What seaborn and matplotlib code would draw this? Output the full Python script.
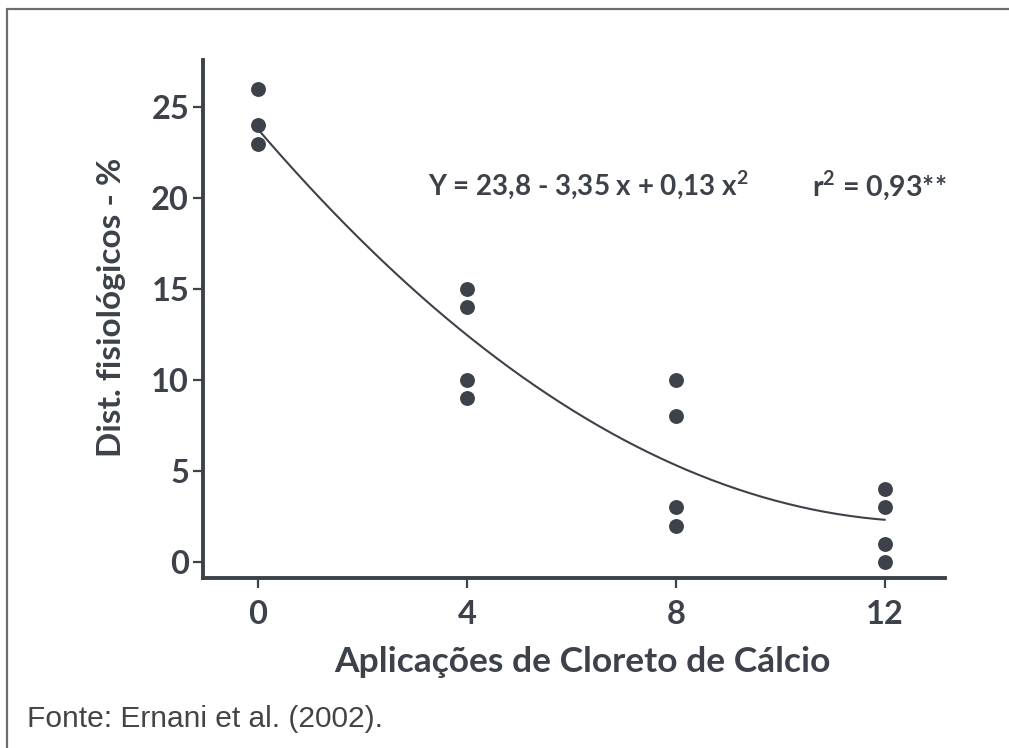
import matplotlib
matplotlib.use("Agg")
import matplotlib.pyplot as plt
from matplotlib.lines import Line2D
import numpy as np
import pandas as pd
import seaborn as sns

# Data
aplicacoes = [0, 0, 0, 4, 4, 4, 4, 8, 8, 8, 8, 12, 12, 12, 12]
disturbios = [26, 24, 23, 15, 14, 10, 9, 10, 8, 3, 2, 4, 3, 1, 0]
coef = [23.8, -3.35, 0.13]  # Y = b0 + b1 x + b2 x^2
x_ticks = [0, 4, 8, 12]
y_ticks = [0, 5, 10, 15, 20, 25]

sns.set_theme(style="white")
plt.rcParams['font.family'] = ['Lato', 'DejaVu Sans']
plt.rcParams['mathtext.fontset'] = 'custom'
plt.rcParams['mathtext.rm'] = 'Lato:bold'
plt.rcParams['mathtext.bf'] = 'Lato:bold'

ink = "#3d424a"
W = "bold"

df = pd.DataFrame({"x": aplicacoes, "y": disturbios})
xs = np.linspace(0, 12, 200)
fit = pd.DataFrame({"x": xs, "y": coef[0] + coef[1] * xs + coef[2] * xs ** 2})

fig = plt.figure(figsize=(10.09, 7.48), dpi=100)
ax = fig.add_axes([203 / 1009, 1 - 578 / 748, 742 / 1009, 518 / 748])

sns.lineplot(data=fit, x="x", y="y", ax=ax, color=ink, linewidth=1.5)
sns.scatterplot(data=df, x="x", y="y", ax=ax, color=ink, s=115, edgecolor=ink, linewidth=0, zorder=3)

ax.set_xlim(-1.05, 13.15)
ax.set_ylim(-0.88, 27.6)
ax.set_xticks(x_ticks)
ax.set_yticks(y_ticks)
ax.set_xticklabels([str(v) for v in x_ticks])
ax.set_yticklabels([str(v) for v in y_ticks])

for s in ["top", "right"]:
    ax.spines[s].set_visible(False)
for s in ["left", "bottom"]:
    ax.spines[s].set_color(ink)
    ax.spines[s].set_linewidth(2.8)

ax.tick_params(axis="both", direction="out", length=7, width=1.6, color=ink,
               labelsize=23.5, labelcolor=ink, left=True, bottom=True)
ax.tick_params(axis="x", pad=9)
ax.tick_params(axis="y", pad=3)
for lab in ax.get_xticklabels() + ax.get_yticklabels():
    lab.set_fontweight(W)

ax.set_xlabel("Aplicações de Cloreto de Cálcio", fontsize=25.5, fontweight=W, color=ink)
ax.set_ylabel("Dist. fisiológicos - %", fontsize=24, fontweight=W, color=ink)
ax.xaxis.set_label_coords((582 - 203) / 742, (578 - 662) / 518)
ax.yaxis.set_label_coords((112 - 203) / 742, (578 - 307) / 518)
ax.xaxis.label.set_va("center")
ax.yaxis.label.set_va("center")

fig.text(428 / 1009, 1 - 185 / 748, r"Y = 23,8 - 3,35 x + 0,13 x$^{\mathbf{2}}$",
         fontsize=20, fontweight=W, color=ink, ha="left", va="center")
fig.text(812 / 1009, 1 - 185 / 748, r"r$^{\mathbf{2}}$ = 0,93**",
         fontsize=20.5, fontweight=W, color=ink, ha="left", va="center")

fig.text(27 / 1009, 1 - 719 / 748, "Fonte: Ernani et al. (2002).",
         family="Liberation Sans", fontsize=21.5, color="#444444", ha="left", va="center")

fig.add_artist(Line2D([7 / 1009, 1.0], [1 - 9 / 748, 1 - 9 / 748], transform=fig.transFigure,
                      color="#6a6e74", linewidth=1.6))
fig.add_artist(Line2D([7 / 1009, 7 / 1009], [1 - 9 / 748, 0.0], transform=fig.transFigure,
                      color="#6a6e74", linewidth=1.6))

fig.savefig("out.png", dpi=100, facecolor="white")
